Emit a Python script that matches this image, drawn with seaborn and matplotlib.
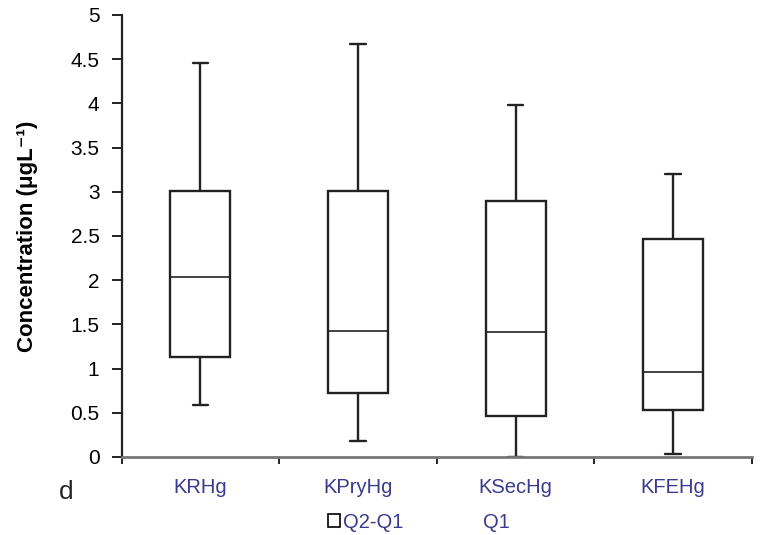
import matplotlib
matplotlib.use("Agg")
import matplotlib.pyplot as plt
import matplotlib.ticker as ticker
from matplotlib.patches import Patch
import seaborn as sns
import numpy as np
import pandas as pd

sns.set_theme(style="white")
plt.rcParams["font.family"] = ["Liberation Sans", "DejaVu Sans"]

# five-number summaries
sites = ["KRHg", "KPryHg", "KSecHg", "KFEHg"]
mins = [0.59, 0.18, 0.0, 0.03]
q1 = [1.13, 0.72, 0.46, 0.53]
medians = [2.03, 1.43, 1.41, 0.96]
q3 = [3.01, 3.01, 2.89, 2.47]
maxs = [4.46, 4.67, 3.98, 3.20]

# five points per site -> quartiles (linear interp) land exactly on the summary values
rows = []
for i, s in enumerate(sites):
    for v in (mins[i], q1[i], medians[i], q3[i], maxs[i]):
        rows.append({"site": s, "conc": v})
df = pd.DataFrame(rows)

fig, ax = plt.subplots(figsize=(7.65, 5.35), dpi=100)
fig.subplots_adjust(left=0.159, right=0.983, top=0.972, bottom=0.146)

sns.boxplot(data=df, x="site", y="conc", order=sites, whis=np.inf,
            color="white", linecolor="#222222", linewidth=1.7, width=0.38,
            capwidths=0.1, medianprops={"linewidth": 1.2},
            ax=ax)

# axes look
ax.set_ylim(0, 5)
ax.set_xlim(-0.5, len(sites) - 0.5)
ax.yaxis.set_major_locator(ticker.MultipleLocator(0.5))
ax.yaxis.set_major_formatter(ticker.FuncFormatter(lambda v, p: f"{v:g}"))
sns.despine(ax=ax)
ax.spines["left"].set_color("#222222")
ax.spines["left"].set_linewidth(1.6)
ax.spines["bottom"].set_color("#777777")
ax.spines["bottom"].set_linewidth(2)

ax.tick_params(axis="y", which="major", left=True, length=7, width=1.4,
               color="#222222", pad=9, labelsize=15, labelcolor="black")
ax.tick_params(axis="x", which="major", bottom=False, length=0, pad=15,
               labelsize=14.5, labelcolor="#3a3a8c")
ax.xaxis.set_minor_locator(ticker.FixedLocator(np.arange(-0.5, len(sites), 1.0)))
ax.tick_params(axis="x", which="minor", bottom=True, length=5, width=1.4,
               color="#222222")

ax.set_xlabel("")
ax.set_ylabel("Concentration (μgL⁻¹)", fontsize=16, fontweight="bold",
              color="black")
ax.yaxis.set_label_coords(-0.133, 0.5)

fig.text(0.086, 0.08, "d", fontsize=19, ha="center", va="center")

handles = [Patch(facecolor="white", edgecolor="black", linewidth=1.2),
           Patch(facecolor="none", edgecolor="none")]
fig.legend(handles, ["Q2-Q1", "Q1"], loc="center", bbox_to_anchor=(0.547, 0.024),
           ncol=2, frameon=False, fontsize=14.5, handlelength=0.6,
           handleheight=0.6, handletextpad=0.15, columnspacing=3.2,
           labelcolor="#3a3a8c")

fig.savefig("out.png", dpi=100)
